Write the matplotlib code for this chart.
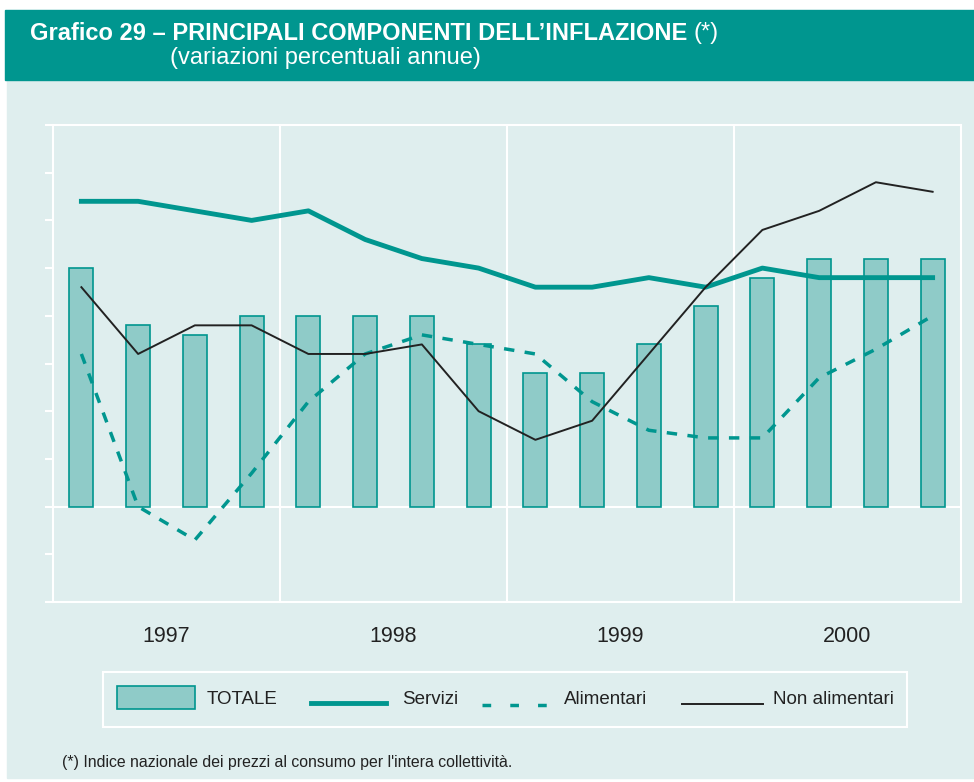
import numpy as np
import matplotlib.pyplot as plt
from matplotlib.patches import Rectangle
from matplotlib.lines import Line2D

# quarterly data 1997Q1 - 2000Q4 (annual % changes)
years = ["1997", "1998", "1999", "2000"]
totale = [2.5, 1.9, 1.8, 2.0, 2.0, 2.0, 2.0, 1.7, 1.4, 1.4, 1.7, 2.1, 2.4, 2.6, 2.6, 2.6]
servizi = [3.2, 3.2, 3.1, 3.0, 3.1, 2.8, 2.6, 2.5, 2.3, 2.3, 2.4, 2.3, 2.5, 2.4, 2.4, 2.4]
alimentari = [1.6, 0.0, -0.35, 0.35, 1.1, 1.6, 1.8, 1.7, 1.6, 1.1, 0.8, 0.72, 0.72, 1.35, 1.65, 2.0]
non_alimentari = [2.3, 1.6, 1.9, 1.9, 1.6, 1.6, 1.7, 1.0, 0.7, 0.9, 1.6, 2.3, 2.9, 3.1, 3.4, 3.3]

teal = "#00968F"
bar_fill = "#8FCBC8"
bg = "#DFEEEE"
ink = "#222222"

plt.rcParams['font.family'] = ['Liberation Sans', 'DejaVu Sans']

W, H = 974, 782
fig = plt.figure(figsize=(W / 100, H / 100), dpi=100)
fig.patch.set_facecolor("white")

# page background and header band
fig.add_artist(Rectangle((7 / W, 1 - 778 / H), (W - 7) / W, (778 - 80) / H,
                         transform=fig.transFigure, color=bg, zorder=0))
fig.add_artist(Rectangle((5 / W, 1 - 80 / H), (W - 5) / W, 70 / H,
                         transform=fig.transFigure, color=teal, zorder=0))

t1 = fig.text(30 / W, 1 - 33 / H, "Grafico 29 \u2013 PRINCIPALI COMPONENTI DELL\u2019INFLAZIONE",
              color="white", fontsize=17, fontweight="bold", va="center", ha="left")
renderer = fig.canvas.get_renderer()
bb = t1.get_window_extent(renderer)
fig.text((bb.x1 + 6) / W, 1 - 33 / H, "(*)", color="white", fontsize=17, va="center", ha="left")
fig.text(170 / W, 1 - 58 / H, "(variazioni percentuali annue)", color="white",
         fontsize=17, va="center", ha="left")

# main axes
x0, x1, y0, y1 = 53, 961, 125, 602
ax = fig.add_axes([x0 / W, 1 - y1 / H, (x1 - x0) / W, (y1 - y0) / H])
ax.patch.set_alpha(0)

n = len(totale)
x = np.arange(n) + 0.5
ax.bar(x, totale, width=0.42, color=bar_fill, edgecolor=teal, linewidth=1.2, zorder=2)
ax.axhline(0, color="white", linewidth=1.5, zorder=1)
for k in range(1, len(years)):
    ax.axvline(4 * k, color="white", linewidth=1.5, zorder=1)

ax.plot(x, servizi, color=teal, linewidth=3.5, zorder=4, solid_joinstyle="round")
ax.plot(x, alimentari, color=teal, linewidth=2.5, linestyle=(0, (3, 3)), zorder=4)
ax.plot(x, non_alimentari, color=ink, linewidth=1.4, zorder=5)

ax.set_xlim(0, n)
ax.set_ylim(-1, 4)
ax.set_yticks(np.arange(-1, 4.01, 0.5))
ax.set_yticklabels([])
ax.set_xticks([])
ax.tick_params(axis="y", direction="out", length=6, width=1.5, color="white")
for side in ["left", "right", "bottom", "top"]:
    ax.spines[side].set_color("white")
    ax.spines[side].set_linewidth(1.5)

for k, yr in enumerate(years):
    fig.text((x0 + (4 * k + 2) * (x1 - x0) / n) / W, 1 - 636 / H, yr,
             fontsize=15.5, ha="center", va="center", color=ink)

# legend box
fig.add_artist(Rectangle((103 / W, 1 - 727 / H), (907 - 103) / W, (727 - 672) / H,
                         transform=fig.transFigure, facecolor="none", edgecolor="white",
                         linewidth=1.5, zorder=1))
ly = 1 - 699 / H
fs = 13.5
fig.add_artist(Rectangle((117 / W, 1 - 709 / H), 78 / W, 23 / H, transform=fig.transFigure,
                         facecolor=bar_fill, edgecolor=teal, linewidth=1.2))
fig.text(207 / W, ly, "TOTALE", fontsize=fs, va="center", color=ink)
fig.add_artist(Line2D([311 / W, 386 / W], [1 - 703 / H] * 2, transform=fig.transFigure,
                      color=teal, linewidth=3.5))
fig.text(402 / W, ly, "Servizi", fontsize=fs, va="center", color=ink)
fig.add_artist(Line2D([482 / W, 552 / W], [1 - 705 / H] * 2, transform=fig.transFigure,
                      color=teal, linewidth=2.5, linestyle=(0, (2.5, 5.5))))
fig.text(564 / W, ly, "Alimentari", fontsize=fs, va="center", color=ink)
fig.add_artist(Line2D([682 / W, 763 / W], [1 - 704 / H] * 2, transform=fig.transFigure,
                      color=ink, linewidth=1.4))
fig.text(773 / W, ly, "Non alimentari", fontsize=fs, va="center", color=ink)

fig.text(62 / W, 1 - 762 / H,
         "(*) Indice nazionale dei prezzi al consumo per l'intera collettivit\u00e0.",
         fontsize=11.4, va="center", color=ink)

plt.savefig("out.png", dpi=100, facecolor=fig.get_facecolor())
